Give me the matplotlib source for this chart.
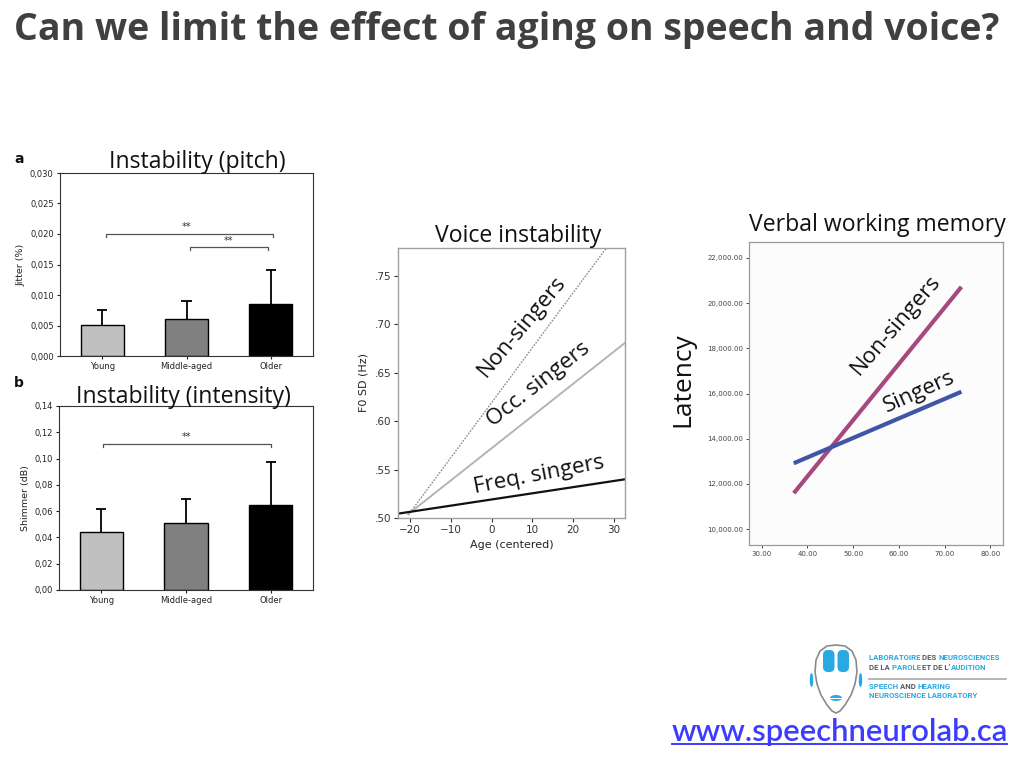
import matplotlib
matplotlib.use("Agg")
import matplotlib.pyplot as plt
from matplotlib.patches import FancyBboxPatch, Ellipse, Polygon
from matplotlib.ticker import FuncFormatter, FixedLocator

# ---------------- data ----------------
groups = ["Young", "Middle-aged", "Older"]
jitter_mean = [0.0051, 0.0061, 0.0085]
jitter_err = [0.0025, 0.0029, 0.0056]
shimmer_mean = [0.0445, 0.0512, 0.0645]
shimmer_err = [0.0172, 0.0183, 0.0331]
bar_colors = ["#c0c0c0", "#808080", "#000000"]

age_x = [-20.5, 32.7]
nonsinger_f0 = [0.503, 0.805]
occ_f0 = [0.504, 0.681]
freq_age_x = [-23.0, 32.7]
freq_f0 = [0.5045, 0.540]

wm_age = [37.0, 73.7]
wm_nonsingers = [11590, 20716]
wm_singers = [12915, 16078]

W, H = 1024, 768
fig = plt.figure(figsize=(W / 100, H / 100), dpi=100)
fig.patch.set_facecolor("white")


def px_axes(l, t, r, b, **kw):
    return fig.add_axes([l / W, 1 - b / H, (r - l) / W, (b - t) / H], **kw)


def ftext(x, y, s, **kw):
    return fig.text(x / W, 1 - y / H, s, **kw)


HEAD_FONT = "Open Sans"
LBL_FONT = "Open Sans"
TSIZE = 16.6
LSIZE = 16

# ---------------- slide title ----------------
ftext(14, 40, "Can we limit the effect of aging on speech and voice?",
      fontsize=27, fontweight="bold", family=HEAD_FONT, color="#404040",
      va="baseline", ha="left")


# ---------------- bar panels ----------------
def bar_panel(ax, means, errs, ymax, ystep, ylabel, fmt):
    xs = list(range(len(groups)))
    ax.bar(xs, means, width=0.51, color=bar_colors, edgecolor="black",
           linewidth=1.0, zorder=2)
    tops = [m + e for m, e in zip(means, errs)]
    ax.vlines(xs, means, tops, color="black", lw=1.3, zorder=1)
    ax.hlines(tops, [x - 0.06 for x in xs], [x + 0.06 for x in xs],
              color="black", lw=1.3, zorder=1)
    ax.set_xlim(-0.5, 2.5)
    ax.set_ylim(0, ymax)
    ticks = [i * ystep for i in range(int(round(ymax / ystep)) + 1)]
    ax.yaxis.set_major_locator(FixedLocator(ticks))
    ax.yaxis.set_major_formatter(FuncFormatter(lambda v, p: fmt.format(v).replace(".", ",")))
    ax.set_xticks(xs)
    ax.set_xticklabels(groups)
    ax.tick_params(axis="both", labelsize=6, length=2.5, width=0.8,
                   direction="out", pad=2, colors="#222222")
    for s in ax.spines.values():
        s.set_color("#333333")
        s.set_linewidth(0.8)
    ax.set_ylabel(ylabel, fontsize=6.8, labelpad=3, color="#222222")


axa = px_axes(60, 173, 313, 356)
bar_panel(axa, jitter_mean, jitter_err, 0.030, 0.005, "Jitter (%)", "{:.3f}")
brc = "#555555"
axa.plot([0.05, 0.05, 2.02, 2.02], [0.0195, 0.0200, 0.0200, 0.0195], color=brc, lw=0.9)
axa.text(1.0, 0.0203, "**", ha="center", va="bottom", fontsize=7, color="#333333")
axa.plot([1.04, 1.04, 1.97, 1.97], [0.0173, 0.0178, 0.0178, 0.0173], color=brc, lw=0.9)
axa.text(1.5, 0.0181, "**", ha="center", va="bottom", fontsize=7, color="#333333")

axb = px_axes(59, 406, 313, 590)
bar_panel(axb, shimmer_mean, shimmer_err, 0.14, 0.02, "Shimmer (dB)", "{:.2f}")
axb.plot([0.02, 0.02, 2.0, 2.0], [0.1085, 0.111, 0.111, 0.1085], color=brc, lw=0.9)
axb.text(1.0, 0.1125, "**", ha="center", va="bottom", fontsize=7, color="#333333")

ftext(14, 163, "a", fontsize=10, fontweight="bold", va="baseline", color="#111111")
ftext(14, 387, "b", fontsize=10, fontweight="bold", va="baseline", color="#111111")
ftext(197, 168, "Instability (pitch)", fontsize=TSIZE, family=LBL_FONT,
      ha="center", va="baseline", color="#111111")
ftext(183, 403, "Instability (intensity)", fontsize=TSIZE, family=LBL_FONT,
      ha="center", va="baseline", color="#111111")

# ---------------- voice instability ----------------
axm = px_axes(398, 248, 625, 518)
axm.set_xlim(-23.0, 32.7)
axm.set_ylim(0.50, 0.779)
axm.plot(age_x, nonsinger_f0, color="#8c8c8c", lw=1.0, ls=(0, (1.2, 1.0)))
axm.plot(age_x, occ_f0, color="#b4b4b4", lw=1.4)
axm.plot(freq_age_x, freq_f0, color="#111111", lw=1.6)
axm.set_xticks([-20, -10, 0, 10, 20, 30])
axm.set_yticks([0.50, 0.55, 0.60, 0.65, 0.70, 0.75])
axm.yaxis.set_major_formatter(FuncFormatter(lambda v, p: ("%.2f" % v)[1:]))
axm.xaxis.set_major_formatter(FuncFormatter(lambda v, p: ("%d" % v).replace("-", "\u2212")))
axm.tick_params(labelsize=7.5, length=3, width=0.8, direction="out", pad=2,
                colors="#333333")
for s in axm.spines.values():
    s.set_color("#a0a0a0")
    s.set_linewidth(1.0)
axm.set_xlabel("Age (centered)", fontsize=8, color="#222222", labelpad=4)
axm.set_ylabel("F0 SD (Hz)", fontsize=8, color="#222222", labelpad=4)
axm.text(8.43, 0.6941, "Non-singers", rotation=50, rotation_mode="anchor",
         ha="center", va="baseline", fontsize=LSIZE, family=LBL_FONT, color="#111111")
axm.text(12.28, 0.6331, "Occ. singers", rotation=38, rotation_mode="anchor",
         ha="center", va="baseline", fontsize=LSIZE, family=LBL_FONT, color="#111111")
axm.text(11.86, 0.539, "Freq. singers", rotation=11, rotation_mode="anchor",
         ha="center", va="baseline", fontsize=LSIZE, family=LBL_FONT, color="#111111")
ftext(518, 242, "Voice instability", fontsize=TSIZE, family=LBL_FONT,
      ha="center", va="baseline", color="#111111")

# ---------------- verbal working memory ----------------
axr = px_axes(749, 242, 1003, 545)
axr.set_facecolor("#fcfcfc")
axr.set_xlim(27.2, 82.8)
axr.set_ylim(9300, 22700)
axr.plot(wm_age, wm_nonsingers, color="#a8497e", lw=3.0, solid_capstyle="butt")
axr.plot(wm_age, wm_singers, color="#3f56a6", lw=3.0, solid_capstyle="butt")
axr.set_xticks([30, 40, 50, 60, 70, 80])
axr.set_yticks([10000, 12000, 14000, 16000, 18000, 20000, 22000])
axr.xaxis.set_major_formatter(FuncFormatter(lambda v, p: "%.2f" % v))
axr.yaxis.set_major_formatter(FuncFormatter(lambda v, p: "{:,.2f}".format(v)))
axr.tick_params(labelsize=5, length=2.5, width=0.7, direction="out", pad=1.5,
                colors="#444444")
for s in axr.spines.values():
    s.set_color("#999999")
    s.set_linewidth(0.9)
axr.text(60.2, 18878, "Non-singers", rotation=49, rotation_mode="anchor",
         ha="center", va="baseline", fontsize=LSIZE, family=LBL_FONT, color="#111111")
axr.text(65.0, 15844, "Singers", rotation=24, rotation_mode="anchor",
         ha="center", va="baseline", fontsize=LSIZE, family=LBL_FONT, color="#111111")
ftext(877, 231, "Verbal working memory", fontsize=TSIZE, family=LBL_FONT,
      ha="center", va="baseline", color="#111111")
ftext(683, 380, "Latency", fontsize=19, family=LBL_FONT, rotation=90,
      ha="center", va="center", color="#111111")

# ---------------- logo + url (overlay in pixel coords) ----------------
ov = fig.add_axes([0, 0, 1, 1], zorder=5)
ov.set_xlim(0, W)
ov.set_ylim(H, 0)
ov.axis("off")
ov.patch.set_alpha(0)

blue = "#29a9e1"
grey = "#58595b"
head = [(836, 645), (827, 646), (820, 651), (816, 660), (815, 672), (817, 684),
        (821, 695), (827, 705), (832, 711), (836, 713), (840, 711), (845, 705),
        (851, 695), (855, 684), (857, 672), (856, 660), (852, 651), (845, 646)]
ov.add_patch(Polygon(head, closed=True, fill=False, ec="#8a8a8a", lw=1.2))
ov.add_patch(FancyBboxPatch((823, 650), 11.5, 22, boxstyle="round,pad=0,rounding_size=5",
                            fc=blue, ec="none"))
ov.add_patch(FancyBboxPatch((837.5, 650), 11.5, 22, boxstyle="round,pad=0,rounding_size=5",
                            fc=blue, ec="none"))
ov.add_patch(Ellipse((811.5, 680), 3.5, 14, fc=blue, ec="none"))
ov.add_patch(Ellipse((860.5, 680), 3.5, 14, fc=blue, ec="none"))
ov.add_patch(Ellipse((836, 698), 12, 6, fc=blue, ec="none"))
ov.plot([830, 842], [698, 698], color="white", lw=0.8)

logo_lines = [
    (660, [("LABORATOIRE ", blue), ("DES ", grey), ("NEUROSCIENCES", blue)]),
    (669.5, [("DE LA ", grey), ("PAROLE ", blue), ("ET DE L\u2019", grey), ("AUDITION", blue)]),
    (689, [("SPEECH ", blue), ("AND ", grey), ("HEARING", blue)]),
    (698.5, [("NEUROSCIENCE LABORATORY", blue)]),
]
for y, parts in logo_lines:
    prev = None
    for word, col in parts:
        if prev is None:
            prev = ov.text(869, y, word, fontsize=5.6, fontweight="bold", family="Roboto",
                           color=col, ha="left", va="baseline")
        else:
            prev = ov.annotate(word, xy=(1, 0), xycoords=prev, fontsize=5.6,
                               fontweight="bold", family="Roboto", color=col,
                               ha="left", va="bottom")
ov.plot([869, 1006], [678.5, 678.5], color="#a8a8a8", lw=1.2)

ov.text(672, 741, "www.speechneurolab.ca", fontsize=22.3, family="Lato",
        fontweight="semibold", color="#3c3cff", ha="left", va="baseline")
ov.plot([672, 1007], [744, 744], color="#3c3cff", lw=1.4)

fig.savefig("out.png", dpi=100, facecolor="white")
